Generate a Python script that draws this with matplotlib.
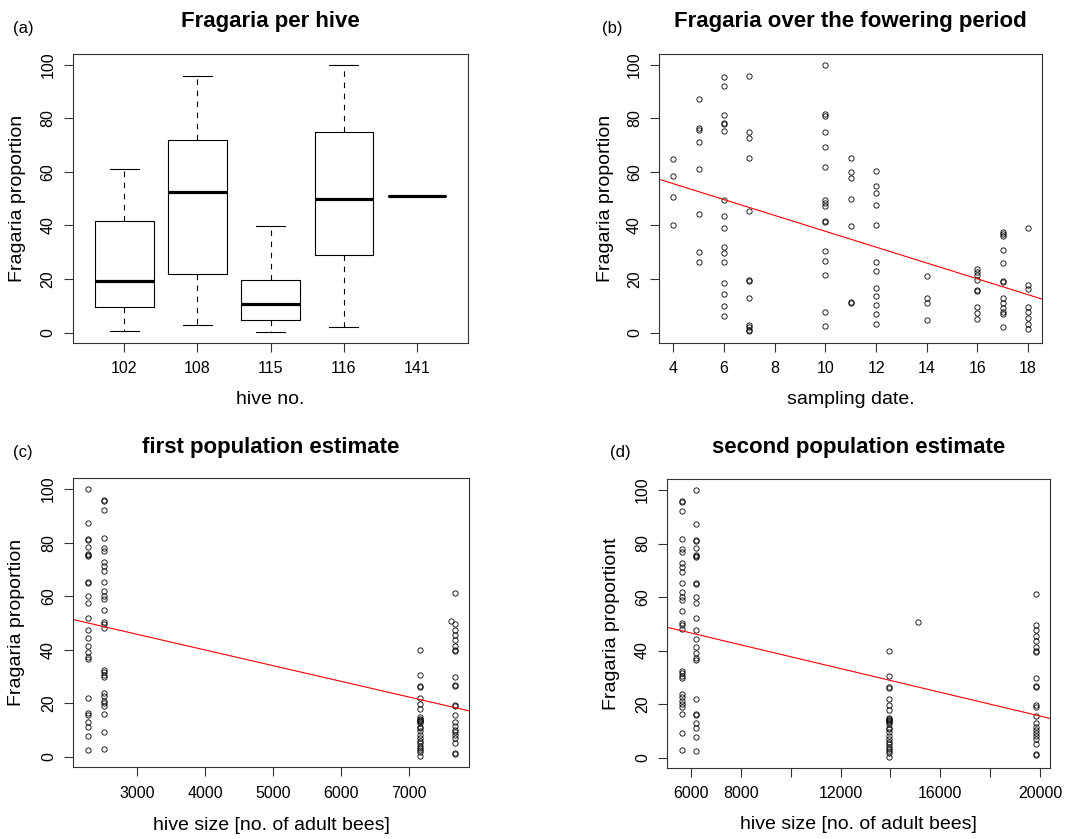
import numpy as np
import matplotlib
matplotlib.use('Agg')
import matplotlib.pyplot as plt

plt.rcParams['font.family'] = ['Liberation Sans', 'DejaVu Sans']

# (a) box statistics per hive
hives = ['102', '108', '115', '116', '141']
whisk_lo = [0.6, 2.9, 0.2, 2.2, 50.8]
q1 = [9.6, 21.9, 4.8, 29.1, 50.8]
med = [19.1, 52.4, 10.8, 49.8, 50.8]
q3 = [41.6, 72.0, 19.5, 75.0, 50.8]
whisk_hi = [61.0, 95.7, 39.9, 100.0, 50.8]

# (b) sampling date vs proportion
date_4 = [64.8, 58.6, 50.7, 40.0]
date_5 = [87.1, 76.3, 75.8, 71.1, 60.9, 44.2, 30.1, 26.4]
date_6 = [95.4, 92.1, 81.3, 78.4, 77.8, 75.3, 49.4, 43.5, 39.0, 32.0, 29.8, 26.4, 18.4, 14.4, 9.8, 6.0]
date_7 = [95.7, 74.9, 72.7, 65.1, 45.4, 19.7, 19.4, 12.8, 2.9, 2.1, 1.0, 0.5]
date_10 = [99.9, 81.5, 80.9, 74.9, 69.1, 61.9, 49.6, 48.5, 47.4, 41.7, 41.3, 30.4, 26.8, 21.6, 7.8, 2.4]
date_11 = [65.1, 59.9, 57.7, 49.8, 39.7, 11.4, 10.9]
date_12 = [60.3, 54.8, 52.1, 47.5, 40.3, 26.2, 22.8, 16.5, 13.8, 10.4, 6.8, 3.0]
date_14 = [21.0, 12.9, 11.0, 4.5]
date_16 = [23.7, 22.6, 21.3, 19.7, 15.8, 15.4, 9.6, 7.3, 5.1]
date_17 = [37.5, 36.8, 36.2, 30.8, 25.8, 19.2, 18.9, 12.9, 11.0, 9.2, 7.6, 7.1, 2.1]
date_18 = [39.0, 17.6, 16.3, 9.4, 7.6, 5.3, 3.3, 1.2]
dates = [4, 5, 6, 7, 10, 11, 12, 14, 16, 17, 18]
by_date = [date_4, date_5, date_6, date_7, date_10, date_11, date_12,
           date_14, date_16, date_17, date_18]

# (c), (d) proportions per hive
hive116 = [100, 87.2, 81.4, 81.0, 78.4, 75.8, 75.4, 75.0, 65.2, 64.8, 60.1, 57.6, 52.0,
           47.5, 44.3, 41.4, 39.0, 37.1, 36.5, 22.0, 16.4, 15.8, 12.9, 11.2, 7.6, 2.4]
hive108 = [95.8, 95.4, 92.0, 81.6, 77.8, 76.9, 72.9, 71.4, 69.2, 65.2, 62.0, 59.9, 59.0,
           54.8, 50.3, 49.7, 48.1, 32.4, 31.7, 30.6, 29.9, 23.7, 22.6, 21.0, 20.1, 19.0,
           16.1, 9.2, 3.0]
hive115 = [40.0, 30.4, 26.5, 26.0, 21.9, 19.8, 17.8, 14.8, 14.3, 13.9, 13.5, 13.2, 12.5,
           11.2, 10.8, 9.6, 8.0, 7.0, 5.8, 5.0, 4.0, 3.2, 2.5, 1.7, 0.2]
hive102 = [61.0, 49.7, 47.5, 45.6, 43.7, 41.5, 40.0, 39.6, 29.9, 26.7, 26.3, 19.5, 18.9,
           15.5, 13.0, 11.4, 10.2, 9.2, 8.1, 7.1, 5.2, 1.5, 0.9]
hive141 = [50.8]
hive_data = [hive116, hive108, hive115, hive141, hive102]
size_first = [2280, 2505, 7155, 7610, 7670]
size_second = [6200, 5650, 13960, 15100, 19845]

W, H = 1073, 839
fig = plt.figure(figsize=(W / 100, H / 100), dpi=100)


def make_ax(left, right, top, bottom):
    return fig.add_axes([left / W, 1 - bottom / H, (right - left) / W, (bottom - top) / H])


def style(ax, xlab, ylab, ylab_off, xlab_off):
    for s in ax.spines.values():
        s.set_color('#333333')
        s.set_linewidth(0.8)
    ax.tick_params(length=6.5, width=0.8, color='#333333', labelsize=11.5)
    ax.tick_params(axis='x', pad=7)
    ax.tick_params(axis='y', labelrotation=90, pad=6)
    for t in ax.get_yticklabels():
        t.set_va('center')
    ax.set_yticks([0, 20, 40, 60, 80, 100])
    ax.set_ylim(-3.8, 104)
    ax.set_xlabel(xlab, fontsize=14, va='center')
    ax.set_ylabel(ylab, fontsize=14, va='center')
    bb = ax.get_position()
    ax.yaxis.set_label_coords(-ylab_off / (bb.width * W), 0.5)
    ax.xaxis.set_label_coords(0.5, -xlab_off / (bb.height * H))


def scatter_fit(ax, x, y):
    ax.plot(x, y, 'o', mfc='none', mec='black', ms=3.8, mew=0.6)
    m, b = np.polyfit(x, y, 1)
    ax.axline((0, b), slope=m, color='red', lw=0.8)


# (a)
ax = make_ax(73, 468.3, 54, 342.7)
stats = [dict(med=med[i], q1=q1[i], q3=q3[i], whislo=whisk_lo[i], whishi=whisk_hi[i])
         for i in range(len(hives))]
ax.bxp(stats, positions=range(1, 6), widths=0.8, showfliers=False,
       boxprops=dict(color='black', lw=0.8),
       medianprops=dict(color='black', lw=2.3, solid_capstyle='butt'),
       whiskerprops=dict(color='black', lw=0.8, linestyle=(0, (5, 5))),
       capprops=dict(color='black', lw=0.8), capwidths=0.4)
ax.set_xlim(0.3, 5.7)
ax.set_xticks(range(1, 6))
ax.set_xticklabels(hives)
style(ax, 'hive no.', 'Fragaria proportion', 56, 57)

# (b)
ax = make_ax(659.3, 1042.3, 54, 342.7)
xb = np.concatenate([[d] * len(v) for d, v in zip(dates, by_date)])
yb = np.concatenate(by_date)
scatter_fit(ax, xb, yb)
ax.set_xlim(3.44, 18.56)
ax.set_xticks([4, 6, 8, 10, 12, 14, 16, 18])
style(ax, 'sampling date.', 'Fragaria proportion', 54, 57)

# (c)
ax = make_ax(73.3, 469, 478.3, 767)
xc = np.concatenate([[s] * len(v) for s, v in zip(size_first, hive_data)])
yc = np.concatenate(hive_data)
scatter_fit(ax, xc, yc)
ax.set_xlim(2059, 7878)
ax.set_xticks([3000, 4000, 5000, 6000, 7000])
style(ax, 'hive size [no. of adult bees]', 'Fragaria proportion', 56.6, 58)

# (d)
ax = make_ax(667.3, 1050.3, 479.3, 767.7)
xd = np.concatenate([[s] * len(v) for s, v in zip(size_second, hive_data)])
scatter_fit(ax, xd, yc)
ax.set_xlim(5063, 20400)
ax.set_xticks(range(6000, 20001, 2000))
ax.set_xticklabels(['6000', '8000', '', '12000', '', '16000', '', '20000'])
style(ax, 'hive size [no. of adult bees]', 'Fragaria proportiont', 55.6, 57)

# titles and panel letters
for txt, x, y in [('Fragaria per hive', 270.6, 22), ('Fragaria over the fowering period', 850.8, 22),
                  ('first population estimate', 271, 447), ('second population estimate', 859, 447)]:
    fig.text(x / W, 1 - y / H, txt, fontsize=16, fontweight='bold', ha='center', va='center')
for txt, x, y in [('(a)', 13, 28), ('(b)', 602, 28), ('(c)', 13, 453), ('(d)', 610, 453)]:
    fig.text(x / W, 1 - y / H, txt, fontsize=12, ha='left', va='center')

fig.savefig('out.png', dpi=100)
